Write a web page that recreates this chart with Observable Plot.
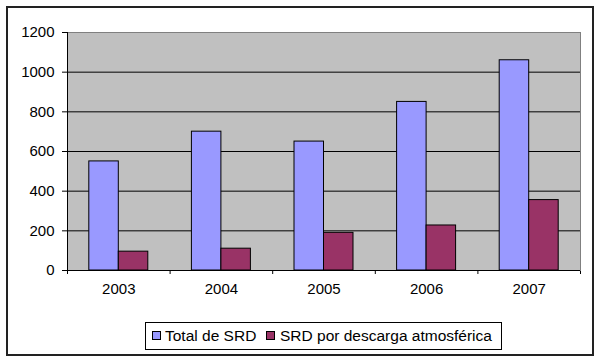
<!DOCTYPE html>
<html>
<head>
<meta charset="utf-8">
<script src="https://cdn.jsdelivr.net/npm/d3@7"></script>
<script src="https://cdn.jsdelivr.net/npm/@observablehq/plot@0.6"></script>
<style>
  html, body { margin: 0; padding: 0; background: #fff; }
  #wrap { position: relative; width: 600px; height: 362px; overflow: hidden; font-family: "Liberation Sans", Arial, sans-serif; }
  #border { position: absolute; left: 6px; top: 6px; width: 584px; height: 346px; border: 2px solid #222; }
  #chart { position: absolute; left: 0; top: 0; }
  #legend { position: absolute; left: 145px; top: 322px; width: 355px; height: 26px; border: 1px solid #000; background: #fff; font-size: 15.5px; color: #000; }
  .sw { position: absolute; top: 8px; width: 7px; height: 7px; border: 1px solid #000; }
  .lt { position: absolute; top: 4px; line-height: 18px; white-space: nowrap; }
</style>
</head>
<body>
<div id="wrap">
  <div id="border"></div>
  <div id="chart"></div>
  <div id="legend"></div>
</div>
<script>
const years = [2003, 2004, 2005, 2006, 2007];
const totalSRD = [550, 700, 650, 850, 1060];
const descargaSRD = [95, 110, 190, 227, 355];
const seriesNames = ["Total de SRD", "SRD por descarga atmosférica"];
const seriesColors = ["#9999FF", "#993366"];
const yTicks = [0, 200, 400, 600, 800, 1000, 1200];

const barW = 0.2875; // bar width in category units
const rows = [];
years.forEach((yr, i) => {
  rows.push({year: yr, series: seriesNames[0], value: totalSRD[i], x1: yr - barW, x2: yr});
  rows.push({year: yr, series: seriesNames[1], value: descargaSRD[i], x1: yr, x2: yr + barW});
});
const boundaries = years.map(y => y - 0.5).concat([years[years.length - 1] + 0.5]);

const plot = Plot.plot({
  width: 600,
  height: 310,
  marginLeft: 67,
  marginRight: 20,
  marginTop: 32,
  marginBottom: 40,
  style: {fontFamily: "'Liberation Sans', Arial, sans-serif", fontSize: "15px", color: "#000", background: "transparent"},
  x: {domain: [boundaries[0], boundaries[boundaries.length - 1]], ticks: boundaries, tickFormat: () => "", tickSize: 4, label: null},
  y: {domain: [0, 1200], ticks: yTicks, tickFormat: d3.format("d"), tickSize: 5, tickPadding: 8, label: null},
  color: {domain: seriesNames, range: seriesColors},
  marks: [
    Plot.frame({fill: "#C0C0C0", stroke: "#808080"}),
    Plot.ruleY(yTicks.filter(t => t > 0 && t < 1200), {stroke: "#000", strokeWidth: 1}),
    Plot.rectY(rows, {x1: "x1", x2: "x2", y1: 0, y2: "value", fill: "series", stroke: "#000", strokeWidth: 1}),
    Plot.ruleY([0], {stroke: "#000", strokeWidth: 1}),
    Plot.ruleX([boundaries[0]], {stroke: "#000", strokeWidth: 1}),
    Plot.text(years, {x: d => d, frameAnchor: "bottom", dy: 23, text: d => String(d), fontSize: 15, fill: "#000"})
  ]
});
document.getElementById("chart").appendChild(plot);

// legend
const legend = document.getElementById("legend");
const swX = [6, 120];
const txX = [19, 134];
seriesNames.forEach((name, i) => {
  const sw = document.createElement("div");
  sw.className = "sw";
  sw.style.left = swX[i] + "px";
  sw.style.background = seriesColors[i];
  legend.appendChild(sw);
  const t = document.createElement("div");
  t.className = "lt";
  t.style.left = txX[i] + "px";
  t.textContent = name;
  legend.appendChild(t);
});
</script>
</body>
</html>
